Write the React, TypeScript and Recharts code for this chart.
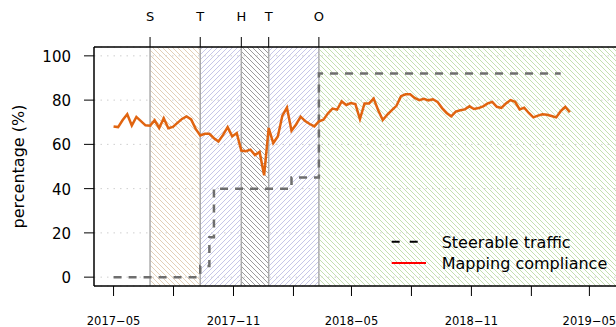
import React from "react";
import {
  ComposedChart,
  Line,
  XAxis,
  YAxis,
  CartesianGrid,
  ReferenceArea,
  ReferenceLine,
  Legend,
} from "recharts";

const FONT = "DejaVu Sans";

// weekly mapping compliance (%)
const complianceDates = [
  "2017-05-01", "2017-05-08", "2017-05-15", "2017-05-22", "2017-05-29",
  "2017-06-05", "2017-06-12", "2017-06-19", "2017-06-26", "2017-07-03",
  "2017-07-10", "2017-07-17", "2017-07-24", "2017-07-31", "2017-08-07",
  "2017-08-14", "2017-08-21", "2017-08-28", "2017-09-04", "2017-09-11",
  "2017-09-18", "2017-09-25", "2017-10-02", "2017-10-09", "2017-10-16",
  "2017-10-23", "2017-10-30", "2017-11-06", "2017-11-13", "2017-11-20",
  "2017-11-27", "2017-12-04", "2017-12-11", "2017-12-18", "2017-12-25",
  "2018-01-01", "2018-01-08", "2018-01-15", "2018-01-22", "2018-01-29",
  "2018-02-05", "2018-02-12", "2018-02-19", "2018-02-26", "2018-03-05",
  "2018-03-12", "2018-03-19", "2018-03-26", "2018-04-02", "2018-04-09",
  "2018-04-16", "2018-04-23", "2018-04-30", "2018-05-07", "2018-05-14",
  "2018-05-21", "2018-05-28", "2018-06-04", "2018-06-11", "2018-06-18",
  "2018-06-25", "2018-07-02", "2018-07-09", "2018-07-16", "2018-07-23",
  "2018-07-30", "2018-08-06", "2018-08-13", "2018-08-20", "2018-08-27",
  "2018-09-03", "2018-09-10", "2018-09-17", "2018-09-24", "2018-10-01",
  "2018-10-08", "2018-10-15", "2018-10-22", "2018-10-29", "2018-11-05",
  "2018-11-12", "2018-11-19", "2018-11-26", "2018-12-03", "2018-12-10",
  "2018-12-17", "2018-12-24", "2018-12-31", "2019-01-07", "2019-01-14",
  "2019-01-21", "2019-01-28", "2019-02-04", "2019-02-11", "2019-02-18",
  "2019-02-25", "2019-03-04", "2019-03-11", "2019-03-18", "2019-03-25",
  "2019-04-01",
];
const complianceValues = [
  68.1, 67.8, 71.0, 73.6, 68.5, 72.4, 70.5, 68.6, 68.4, 70.9,
  67.4, 71.8, 67.3, 67.9, 69.7, 71.5, 72.6, 71.3, 67.0, 64.0,
  64.8, 64.8, 62.8, 61.3, 64.3, 67.8, 63.6, 65.1, 57.2, 56.9,
  57.6, 55.2, 56.6, 46.0, 67.4, 60.6, 63.6, 73.0, 76.6, 66.2,
  69.0, 72.5, 70.5, 69.2, 68.1, 70.4, 71.1, 74.0, 76.2, 75.7,
  79.4, 77.8, 78.7, 78.2, 71.4, 78.5, 78.5, 80.7, 75.4, 71.0,
  73.4, 75.5, 77.4, 81.8, 82.6, 82.6, 81.0, 80.0, 80.6, 79.9,
  80.4, 79.2, 76.4, 74.2, 72.7, 74.8, 75.4, 75.8, 77.2, 76.0,
  76.4, 77.2, 78.5, 79.2, 77.0, 76.5, 78.5, 80.0, 79.2, 75.8,
  76.6, 74.2, 72.2, 73.0, 73.6, 73.4, 72.8, 72.2, 75.0, 77.0,
  74.5,
];

// share of steerable traffic (%), step changes
const steerDates = ["2017-05-01", "2017-09-11", "2017-09-25", "2017-10-02", "2018-01-29", "2018-03-12", "2019-03-18"];
const steerValues = [0, 5, 18, 40, 45, 92, 92];

// deployment phases
const eventDates = ["2017-06-26", "2017-09-11", "2017-11-13", "2017-12-25", "2018-03-12"];
const eventLabels = ["S", "T", "H", "T", "O"];
const phaseHatches = ["hatch-tan", "hatch-blue", "hatch-gray", "hatch-blue", "hatch-green"];

const xTickDates = [
  "2017-05-01", "2017-08-01", "2017-11-01", "2018-02-01", "2018-05-01",
  "2018-08-01", "2018-11-01", "2019-02-01", "2019-05-01", "2019-08-01",
];
const yTicks = [0, 20, 40, 60, 80, 100];

const STEER_NAME = "Steerable traffic";
const COMPLIANCE_NAME = "Mapping compliance";

const day = (s: string) => Date.parse(s);
const X_MIN = day("2017-04-01");
const X_MAX = day("2019-09-17");

const complianceData = complianceDates.map((d, i) => ({ t: day(d), v: complianceValues[i] }));
const steerData = steerDates.map((d, i) => ({ t: day(d), v: steerValues[i] }));
const eventDays = eventDates.map(day);
const phaseEnds = [...eventDays.slice(1), X_MAX];

// tick above the frame plus the phase letter
function EventMark({ viewBox, text }: any) {
  const { x, y } = viewBox;
  return (
    <g>
      <line x1={x} x2={x} y1={y - 10} y2={y} stroke="#000" strokeWidth={1} />
      <text x={x} y={21} textAnchor="middle" fontFamily={FONT} fontSize={13} fill="#000">
        {text}
      </text>
    </g>
  );
}

function BottomTick({ x, y, payload }: any) {
  const d = new Date(payload.value);
  const m = d.getUTCMonth();
  if (m !== 4 && m !== 10) return <g />;
  const label = `${d.getUTCFullYear()}\u2212${String(m + 1).padStart(2, "0")}`;
  return (
    <text x={x} y={y + 26.5} textAnchor="middle" fontFamily={FONT} fontSize={11.5} fill="#000">
      {label}
    </text>
  );
}

function LeftTick({ x, y, payload }: any) {
  return (
    <text x={x} y={y + 6} textAnchor="end" fontFamily={FONT} fontSize={15} fill="#000">
      {payload.value}
    </text>
  );
}

function YTitle({ viewBox }: any) {
  const cy = viewBox.y + viewBox.height / 2;
  return (
    <text
      x={23.5}
      y={cy}
      transform={`rotate(-90 23.5 ${cy})`}
      textAnchor="middle"
      fontFamily={FONT}
      fontSize={16}
      fill="#000"
    >
      percentage (%)
    </text>
  );
}

function LegendBox() {
  return (
    <svg width={240} height={48} style={{ display: "block", overflow: "visible" }}>
      <line x1={11.7} y1={13.7} x2={46} y2={13.7} stroke="#000" strokeWidth={2} strokeDasharray="8 10" />
      <text x={61.7} y={20.3} fontFamily={FONT} fontSize={16} fill="#000">{STEER_NAME}</text>
      <line x1={11.7} y1={34.9} x2={46} y2={34.9} stroke="#ff0000" strokeWidth={2} />
      <text x={61.7} y={41} fontFamily={FONT} fontSize={16} fill="#000">{COMPLIANCE_NAME}</text>
    </svg>
  );
}

// diagonal hatch, 5px apart horizontally
function hatch(id: string, color: string, forward: boolean) {
  const d = forward
    ? "M-1,6 L6,-1 M-1,1 L1,-1 M4,6 L6,4"
    : "M-1,-1 L6,6 M-1,4 L1,6 M4,-1 L6,1";
  return (
    <pattern id={id} key={id} patternUnits="userSpaceOnUse" width={5} height={5}>
      <path d={d} stroke={color} strokeWidth={1} fill="none" />
    </pattern>
  );
}

export default function App() {
  return (
    <div
      style={{
        position: "absolute",
        left: 0,
        top: 0,
        width: 616,
        height: 327,
        overflow: "hidden",
        background: "#fff",
      }}
    >
      <ComposedChart width={680} height={327} margin={{ top: 0, right: 0, bottom: 0, left: 0 }}>
        <defs>
          {hatch("hatch-tan", "#e2d0b6", false)}
          {hatch("hatch-blue", "#c6c6e8", true)}
          {hatch("hatch-gray", "#9c9c9c", false)}
          {hatch("hatch-green", "#c4e0b0", false)}
        </defs>
        <XAxis
          xAxisId="top"
          orientation="top"
          type="number"
          domain={[X_MIN, X_MAX]}
          allowDataOverflow
          height={47}
          tick={false}
          tickLine={false}
          axisLine={{ stroke: "#000", strokeWidth: 1.5 }}
        />
        <XAxis
          dataKey="t"
          type="number"
          domain={[X_MIN, X_MAX]}
          allowDataOverflow
          ticks={xTickDates.map(day)}
          interval={0}
          height={41}
          tickSize={10}
          tickMargin={2}
          tick={<BottomTick />}
          axisLine={{ stroke: "#000", strokeWidth: 1.5 }}
          tickLine={{ stroke: "#000" }}
        />
        <YAxis
          type="number"
          domain={[-4, 104]}
          allowDataOverflow
          ticks={yTicks}
          interval={0}
          width={94}
          tickSize={10}
          tickMargin={13}
          tick={<LeftTick />}
          axisLine={{ stroke: "#000", strokeWidth: 1.5 }}
          tickLine={{ stroke: "#000" }}
          label={<YTitle />}
        />
        <CartesianGrid vertical={false} stroke="#cfcfcf" strokeDasharray="1.5 5" />
        {eventDays.map((d, i) => (
          <ReferenceArea
            key={`phase-${i}`}
            x1={d}
            x2={phaseEnds[i]}
            fill={`url(#${phaseHatches[i]})`}
            fillOpacity={1}
            stroke="none"
          />
        ))}
        {eventDays.map((d, i) => (
          <ReferenceLine
            key={`edge-${i}`}
            x={d}
            stroke="#ababab"
            strokeWidth={1.5}
            label={(props: any) => <EventMark {...props} text={eventLabels[i]} />}
          />
        ))}
        <Line
          data={steerData}
          dataKey="v"
          name={STEER_NAME}
          type="stepAfter"
          stroke="#6e6e6e"
          strokeWidth={2.5}
          strokeDasharray="8 7"
          dot={false}
          activeDot={false}
          isAnimationActive={false}
        />
        <Line
          data={complianceData}
          dataKey="v"
          name={COMPLIANCE_NAME}
          type="linear"
          stroke="#e06410"
          strokeWidth={2.5}
          dot={false}
          activeDot={false}
          isAnimationActive={false}
        />
        <Legend
          layout="vertical"
          align="center"
          verticalAlign="middle"
          wrapperStyle={{ left: 380, top: 228, width: 240, height: 48 }}
          content={() => <LegendBox />}
        />
      </ComposedChart>
    </div>
  );
}
